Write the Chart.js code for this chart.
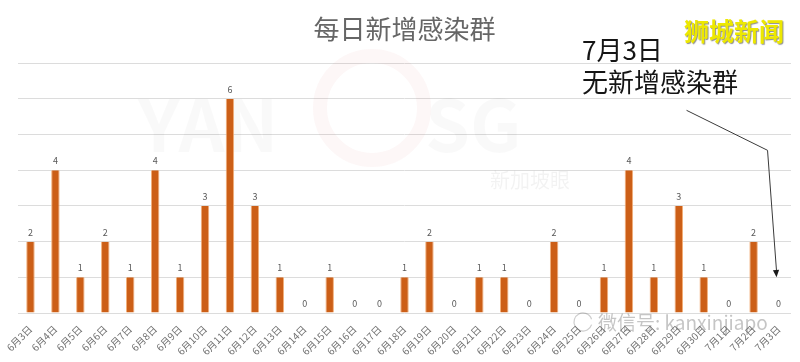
<!DOCTYPE html>
<html>
<head>
<meta charset="utf-8">
<script src="https://cdn.jsdelivr.net/npm/chart.js@4"></script>
<style>
  html, body { margin: 0; padding: 0; background: #fff; }
  #wrap { width: 800px; height: 362px; }
</style>
</head>
<body>
<div id="wrap"><canvas id="myChart"></canvas></div>
<script>
const days = [
  '6月3日', '6月4日', '6月5日', '6月6日', '6月7日', '6月8日', '6月9日', '6月10日',
  '6月11日', '6月12日', '6月13日', '6月14日', '6月15日', '6月16日', '6月17日', '6月18日',
  '6月19日', '6月20日', '6月21日', '6月22日', '6月23日', '6月24日', '6月25日', '6月26日',
  '6月27日', '6月28日', '6月29日', '6月30日', '7月1日', '7月2日', '7月3日',
];
const newClusters = [2, 4, 1, 2, 1, 4, 1, 3, 6, 3, 1, 0, 1, 0, 0, 1, 2, 0, 1, 1, 0, 2, 0, 1, 4, 1, 3, 1, 0, 2, 0];
const yTicks = [0, 1, 2, 3, 4, 5, 6, 7];
const noteLines = ['7月3日', '无新增感染群'];
const brand = '狮城新闻';

const cjk = '"Noto Sans CJK SC", "Noto Sans", sans-serif';

// value labels above each bar
const valueLabels = {
  id: 'valueLabels',
  afterDatasetsDraw(chart) {
    const { ctx } = chart;
    const meta = chart.getDatasetMeta(0);
    ctx.save();
    ctx.font = `9px ${cjk}`;
    ctx.fillStyle = '#595959';
    ctx.textAlign = 'center';
    ctx.textBaseline = 'bottom';
    meta.data.forEach((bar, i) => {
      ctx.fillText(String(newClusters[i]), bar.x, bar.y - 5);
    });
    ctx.restore();
  },
};

// faint watermarks behind the bars
const watermark = {
  id: 'watermark',
  beforeDatasetsDraw(chart) {
    const { ctx } = chart;
    ctx.save();
    ctx.fillStyle = 'rgba(0,0,0,0.022)';
    ctx.font = `bold 72px ${cjk}`;
    ctx.textBaseline = 'alphabetic';
    ctx.fillText('YAN', 138, 152);
    ctx.fillText('SG', 425, 152);
    ctx.strokeStyle = 'rgba(220,60,60,0.045)';
    ctx.lineWidth = 14;
    ctx.beginPath();
    ctx.arc(372, 108, 52, 0, Math.PI * 2);
    ctx.stroke();
    ctx.font = `20px ${cjk}`;
    ctx.fillStyle = 'rgba(0,0,0,0.05)';
    ctx.fillText('新加坡眼', 490, 188);
    ctx.restore();
  },
  afterDraw(chart) {
    const { ctx } = chart;
    ctx.save();
    ctx.fillStyle = 'rgba(90,90,90,0.35)';
    ctx.font = `19px ${cjk}`;
    ctx.textBaseline = 'alphabetic';
    ctx.fillText('微信号: kanxinjiapo', 598, 330);
    ctx.strokeStyle = 'rgba(90,90,90,0.3)';
    ctx.lineWidth = 1.2;
    ctx.beginPath();
    ctx.arc(583, 322, 9, 0.3, Math.PI * 1.9);
    ctx.stroke();
    ctx.restore();
  },
};

// callout text, brand and arrow pointing to the last day
const callout = {
  id: 'callout',
  afterDraw(chart) {
    const { ctx } = chart;
    const x = chart.scales.x;
    const y = chart.scales.y;
    ctx.save();
    ctx.font = `26px ${cjk}`;
    ctx.fillStyle = '#151515';
    ctx.textBaseline = 'alphabetic';
    ctx.fillText(noteLines[0], 582, 60);
    ctx.fillText(noteLines[1], 582, 92);

    ctx.font = `bold 25px ${cjk}`;
    ctx.shadowColor = 'rgba(0,0,0,0.45)';
    ctx.shadowOffsetX = 1;
    ctx.shadowOffsetY = 1;
    ctx.shadowBlur = 1;
    ctx.fillStyle = '#EDE800';
    ctx.fillText(brand, 684, 41);
    ctx.shadowColor = 'transparent';

    const end = { x: x.getPixelForValue(newClusters.length - 1) - 2, y: y.getPixelForValue(1) };
    const bend = { x: end.x - 9, y: end.y - 127 };
    const start = { x: bend.x - 81, y: bend.y - 40 };
    ctx.strokeStyle = '#3a3a3a';
    ctx.lineWidth = 1;
    ctx.beginPath();
    ctx.moveTo(start.x, start.y);
    ctx.lineTo(bend.x, bend.y);
    ctx.lineTo(end.x, end.y - 6);
    ctx.stroke();
    const ang = Math.atan2(end.y - bend.y, end.x - bend.x);
    ctx.fillStyle = '#1a1a1a';
    ctx.beginPath();
    ctx.moveTo(end.x, end.y);
    ctx.lineTo(end.x - 8 * Math.cos(ang - 0.4), end.y - 8 * Math.sin(ang - 0.4));
    ctx.lineTo(end.x - 8 * Math.cos(ang + 0.4), end.y - 8 * Math.sin(ang + 0.4));
    ctx.closePath();
    ctx.fill();
    ctx.restore();
  },
};

const clusterChart = new Chart('myChart', {
  type: 'bar',
  data: {
    labels: days,
    datasets: [
      {
        data: newClusters,
        backgroundColor: '#CC5F17',
        borderColor: '#F3B07A',
        borderWidth: { left: 1, right: 1, top: 0, bottom: 0 },
        categoryPercentage: 1,
        barPercentage: 0.34,
      },
    ],
  },
  options: {
    responsive: true,
    maintainAspectRatio: false,
    animation: false,
    layout: { padding: { left: 18, right: 9, top: 0, bottom: 7 } },
    plugins: {
      legend: { display: false },
      tooltip: { enabled: false },
      title: {
        display: true,
        text: '每日新增感染群',
        color: '#666666',
        font: { size: 26, weight: 'normal', family: cjk, lineHeight: 1.2 },
        padding: { top: 14, bottom: 18 },
      },
    },
    scales: {
      x: {
        grid: { display: false },
        border: { display: false },
        ticks: {
          autoSkip: false,
          minRotation: 45,
          maxRotation: 45,
          color: '#707070',
          font: { size: 10, family: cjk },
          padding: 2,
        },
        afterFit(scale) { scale.height = 42; },
      },
      y: {
        min: yTicks[0],
        max: yTicks[yTicks.length - 1],
        afterBuildTicks(scale) { scale.ticks = yTicks.map((v) => ({ value: v })); },
        grid: { color: '#DCDCDC', lineWidth: 1, drawTicks: false },
        border: { display: false },
        ticks: { display: false },
        afterFit(scale) { scale.width = 0; },
      },
    },
  },
  plugins: [watermark, valueLabels, callout],
});
</script>
</body>
</html>
